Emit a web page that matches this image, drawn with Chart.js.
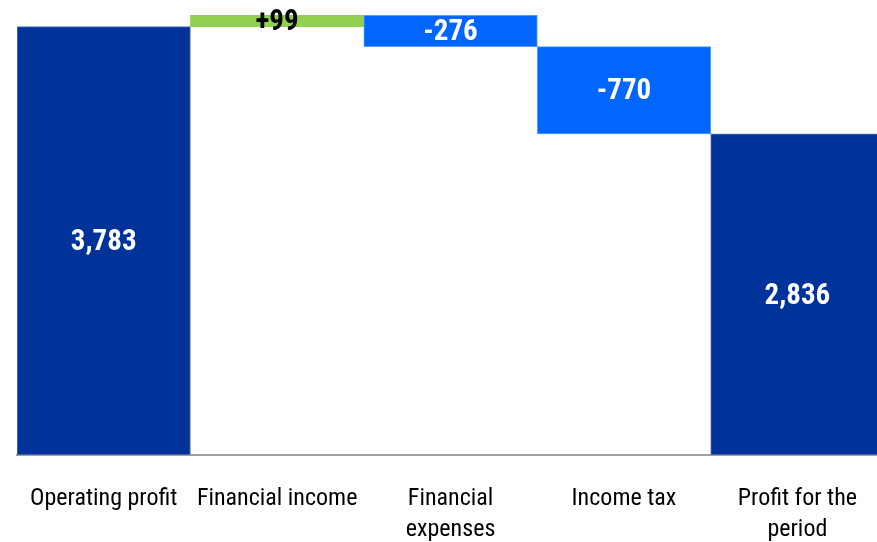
<!DOCTYPE html>
<html>
<head>
<meta charset="utf-8">
<script src="https://cdn.jsdelivr.net/npm/chart.js@4"></script>
<style>
  html, body { margin: 0; padding: 0; background: #fff; overflow: hidden; }
  #wrap { width: 877px; height: 542px; overflow: hidden; }
</style>
</head>
<body>
<div id="wrap"><canvas id="myChart" width="885" height="542"></canvas></div>
<script>
const labels = [
  'Operating profit',
  'Financial income',
  ['Financial', 'expenses'],
  'Income tax',
  ['Profit for the', 'period']
];
const values = [3783, 99, -276, -770, 2836];
const valueText = ['3,783', '+99', '-276', '-770', '2,836'];
const isTotal = [true, false, false, false, true];

const FONT = "'Liberation Sans Narrow', 'Arial Narrow', 'Roboto Condensed', sans-serif";

// floating bars: totals start at 0, changes start at running sum
let running = 0;
const ranges = values.map((v, i) => {
  if (isTotal[i]) { running = v; return [0, v]; }
  const r = [running, running + v];
  running += v;
  return r;
});
const colors = values.map((v, i) => isTotal[i] ? '#003399' : (v >= 0 ? '#92D050' : '#0066FF'));
const borders = values.map((v, i) => isTotal[i] ? '#5577bb' : (v >= 0 ? '#92D050' : '#5599ff'));

const barLabels = {
  id: 'barLabels',
  afterDatasetsDraw(chart) {
    const ctx = chart.ctx;
    const meta = chart.getDatasetMeta(0);
    ctx.save();
    ctx.font = 'bold 29px ' + FONT;
    ctx.textAlign = 'center';
    ctx.textBaseline = 'middle';
    meta.data.forEach((bar, i) => {
      const y = (bar.y + bar.base) / 2;
      ctx.fillStyle = (values[i] >= 0 && !isTotal[i]) ? '#000' : '#fff';
      ctx.fillText(valueText[i], bar.x, y + 2);
    });
    ctx.restore();
  }
};

const ctx = document.getElementById('myChart');
const chart = new Chart(ctx, {
  type: 'bar',
  data: {
    labels: labels,
    datasets: [{
      data: ranges,
      backgroundColor: colors,
      borderColor: borders,
      borderWidth: 1,
      borderSkipped: false,
      barPercentage: 1,
      categoryPercentage: 1
    }]
  },
  options: {
    responsive: false,
    animation: false,
    layout: { padding: { top: 2, left: 17, right: 0, bottom: 0 } },
    plugins: { legend: { display: false }, tooltip: { enabled: false } },
    scales: {
      x: {
        afterFit(scale) { scale.height = 87; },
        grid: { display: false, drawTicks: false },
        border: { display: true, color: '#a0a0a0', width: 2 },
        ticks: {
          color: '#000',
          font: { family: FONT, size: 24, lineHeight: 1.3 },
          padding: 28,
          maxRotation: 0,
          autoSkip: false
        }
      },
      y: {
        display: false,
        min: 0,
        max: 4000
      }
    }
  },
  plugins: [barLabels]
});
</script>
</body>
</html>
